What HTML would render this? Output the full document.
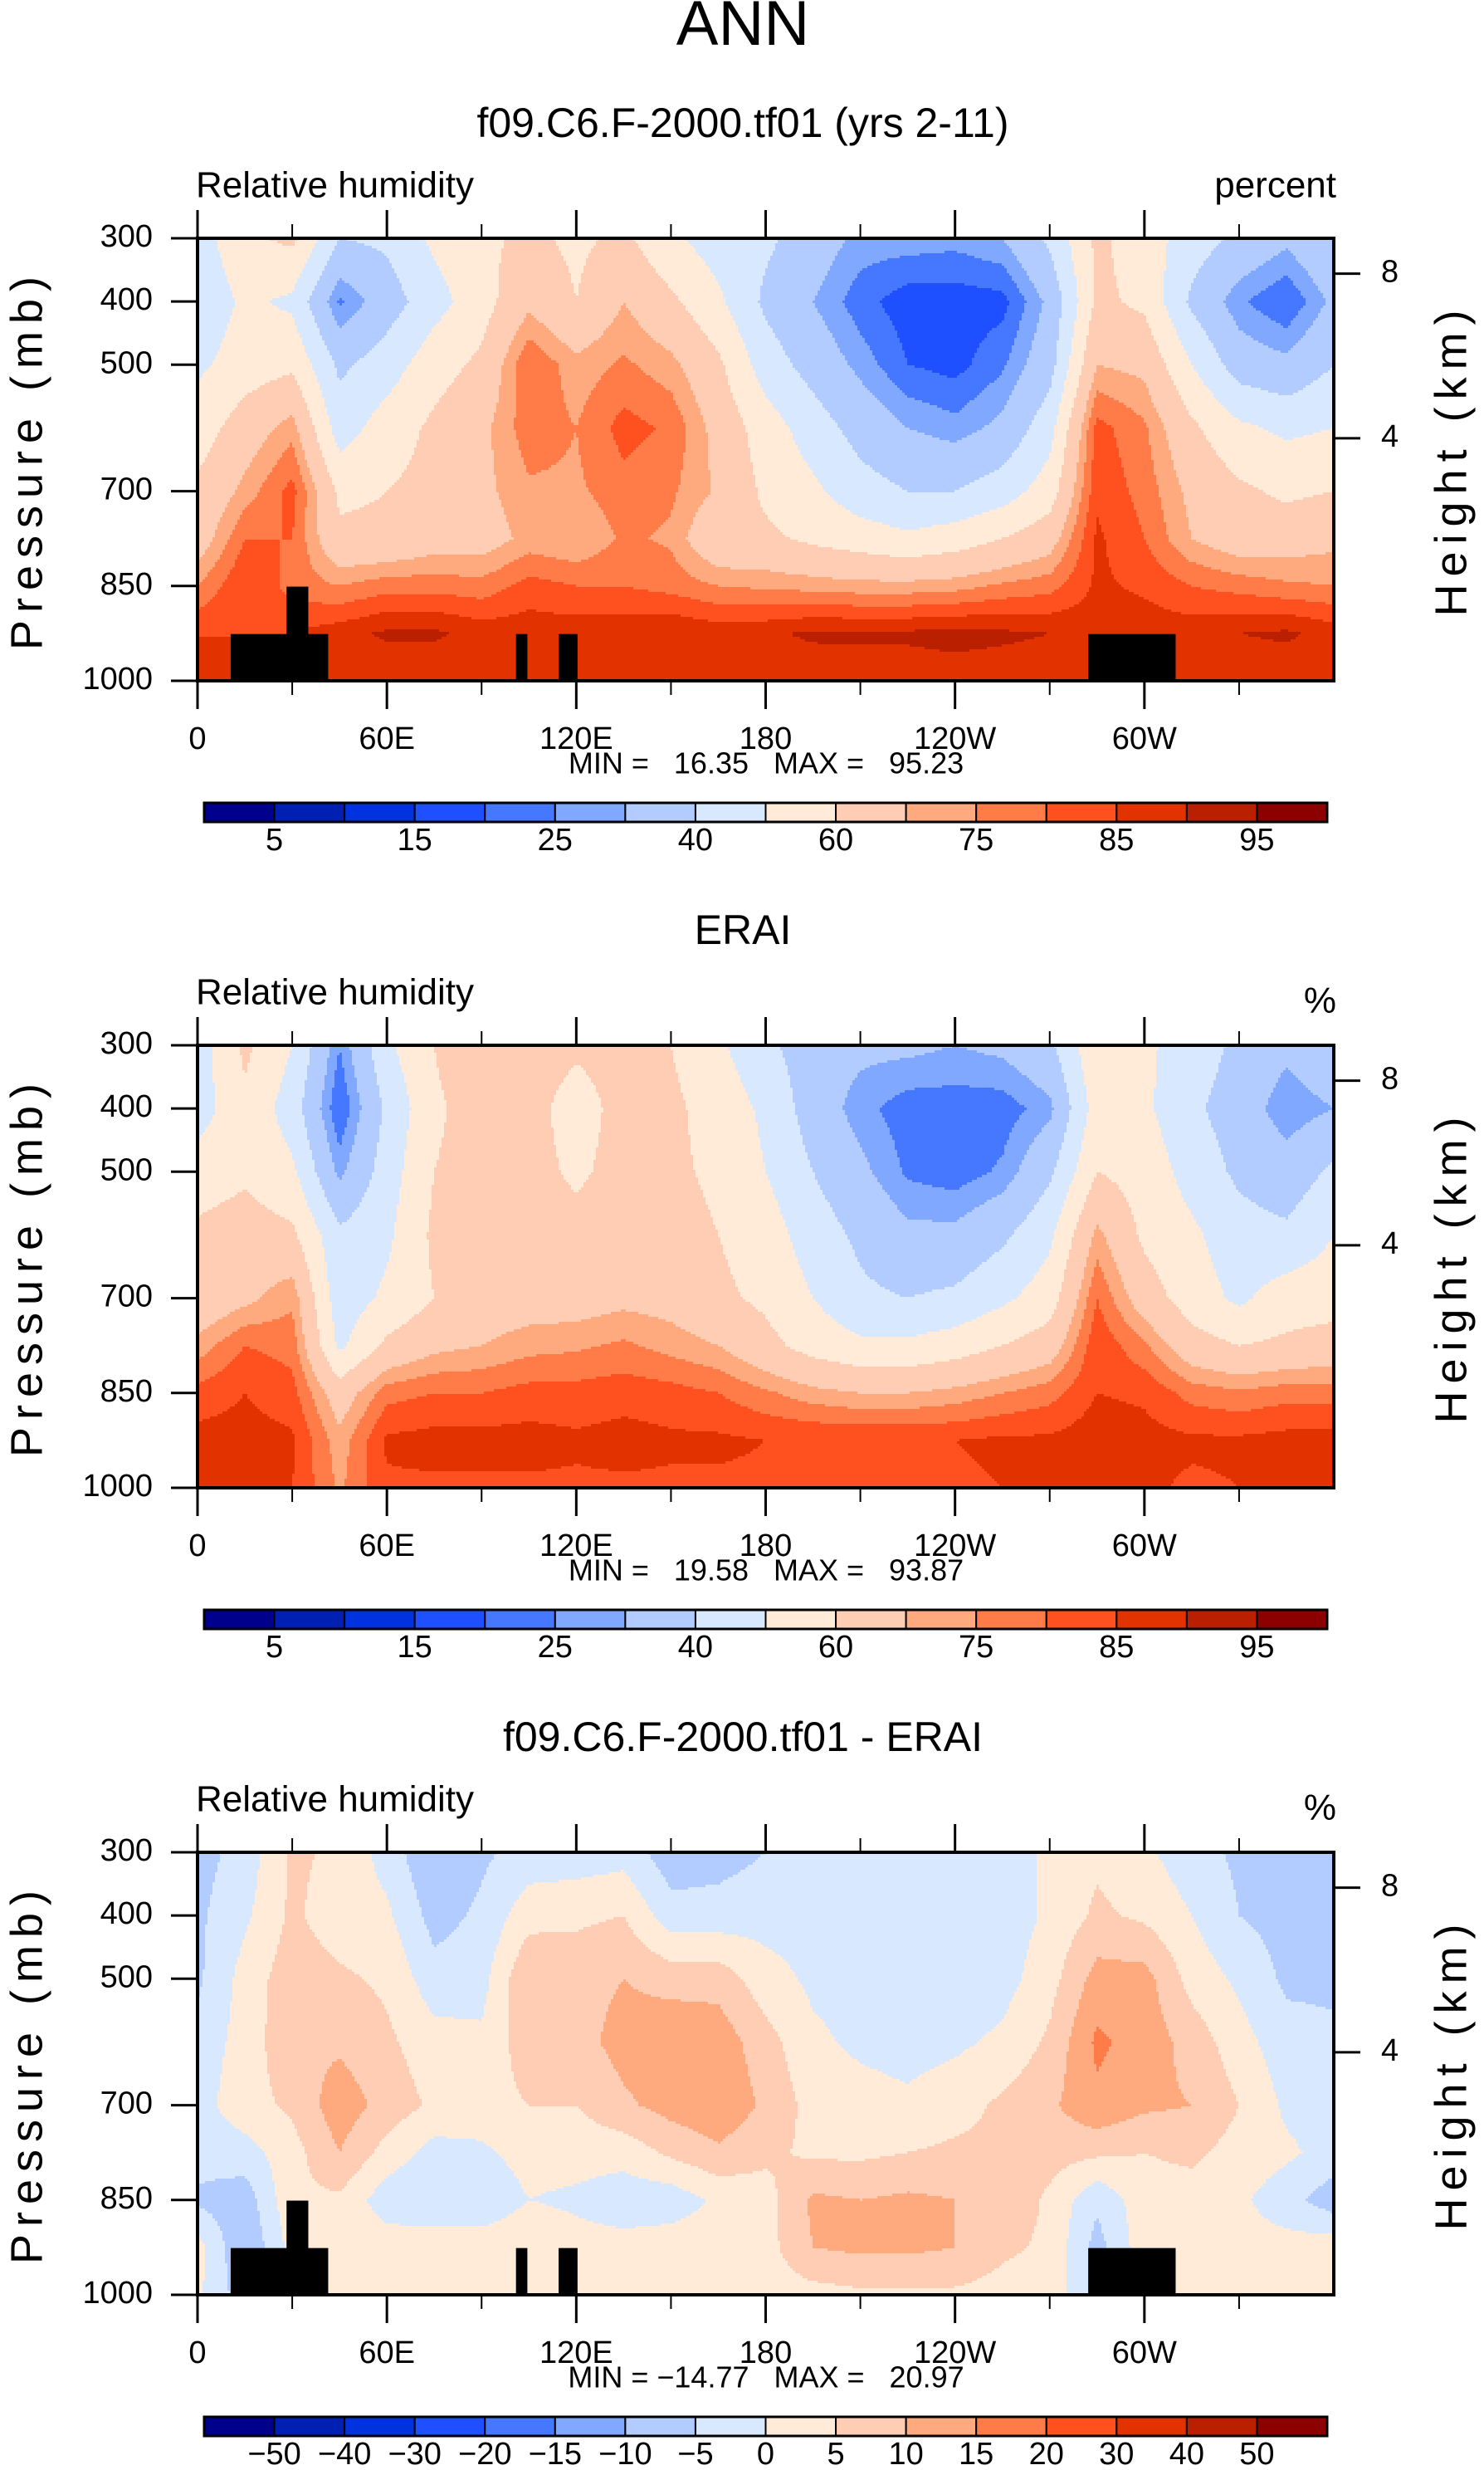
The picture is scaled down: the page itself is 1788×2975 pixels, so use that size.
<!DOCTYPE html>
<html><head><meta charset="utf-8">
<style>
html,body{margin:0;padding:0;background:#fff;}
svg{display:block;}
text{font-family:"Liberation Sans",sans-serif;fill:#000;}
</style></head>
<body>
<svg id="fig" xmlns="http://www.w3.org/2000/svg" width="1788" height="2975" viewBox="0 0 1788 2975">
<rect width="1788" height="2975" fill="#fff"/>
<text x="895" y="34" font-size="76" text-anchor="middle" dominant-baseline="middle" font-weight="300">ANN</text>
</svg>
<script>
// ---- shared axes data ----
const lons = [0,15,30,45,60,75,90,105,120,135,150,165,180,195,210,225,240,255,270,285,300,315,330,345,360];
const pLevels = [300,400,500,600,700,775,850,925,1000];
const pTicks = [300,400,500,700,850,1000];
const lonTicksMajor = [0,60,120,180,240,300];
const lonTickLabels = ["0","60E","120E","180","120W","60W"];
const lonTicksMinor = [30,90,150,210,270,330];
const kmTicks = [8,4];

// field values [lon index][pressure index]
const modelRH = [
[45,42,48,55,62,65,75,85,85],[58,52,55,65,72,80,85,85,85],[62,48,58,73,82,80,78,85,85],
[40,24,38,45,58,62,75,88,85],[42,35,45,55,60,62,78,91,85],[52,46,56,62,63,66,78,91,85],
[58,56,62,68,68,66,77,88,85],[62,68,80,78,74,72,82,88,86],[58,60,72,75,74,70,80,88,86],
[62,70,76,82,78,76,80,88,86],[52,62,72,79,76,74,78,90,86],[45,52,62,67,69,62,75,88,86],
[42,38,45,55,58,62,74,89,86],[35,30,36,45,52,58,73,91,86],[28,22,28,36,44,55,72,91,87],
[28,17,20,30,40,52,72,91,87],[27,17,18,27,40,55,73,92,87],[30,18,24,32,45,60,76,91,87],
[42,32,36,46,55,66,78,90,87],[62,62,70,82,84,86,86,88,86],[55,58,68,76,78,80,84,88,86],
[45,38,50,62,68,70,80,88,86],[38,26,35,52,62,65,78,90,86],[32,20,32,48,58,66,76,91,86],
[40,32,40,50,60,68,75,88,86]];
const eraiRH = [
[45,45,55,62,63,72,82,87,86],[62,58,58,65,68,80,85,87,86],[50,45,52,62,74,78,82,86,85],
[25,20,28,42,44,48,65,72,74],[48,42,45,48,52,62,78,86,84],[60,58,60,62,60,68,80,87,84],
[70,65,65,65,65,70,80,87,84],[66,64,64,65,66,73,82,87,84],[62,55,58,64,66,74,82,86,84],
[64,64,64,65,68,76,83,87,84],[60,62,62,64,67,73,82,86,84],[52,56,58,60,62,70,80,86,84],
[42,48,50,55,58,63,76,85,84],[35,35,40,45,50,56,72,85,84],[32,27,32,38,42,52,70,85,84],
[32,22,24,32,40,52,70,85,84],[30,22,22,32,42,55,72,85,84],[32,22,26,38,48,60,75,86,85],
[38,28,38,48,55,65,78,86,85],[58,55,60,72,80,84,85,88,86],[52,52,56,58,65,76,84,87,86],
[45,42,46,52,55,64,78,86,84],[38,35,38,44,48,60,76,86,85],[32,26,34,42,55,62,78,87,86],
[38,30,42,50,56,64,78,87,86]];
const diffRH = [
[-7,-6,-6,-3,-2,-3,-6,2,1],[-3,-1,2,2,3,-2,-8,-10,-8],[6,6,8,9,6,3,4,2,2],
[4,2,6,9,13,10,4,5,4],[-2,1,4,6,8,3,-3,3,3],[-10,-7,-3,2,4,-2,-5,4,3],
[-6,-4,-2,1,3,-1,-4,3,2],[-3,3,10,8,5,2,0,4,2],[-3,4,8,8,5,2,-1,2,2],
[-2,5,10,12,9,2,-3,2,2],[-8,-3,8,14,12,6,-3,3,2],[-7,-3,8,13,14,9,1,3,2],
[-5,-2,2,7,9,6,3,3,2],[-3,-2,-1,1,3,4,11,10,3],[-3,-3,-2,-1,2,4,10,11,4],
[-3,-3,-2,-2,1,5,11,11,4],[-3,-5,-3,-1,3,6,10,10,4],[-3,-3,-2,1,6,6,9,6,3],
[1,1,3,6,9,7,4,4,3],[4,6,12,16,14,6,-4,-7,-6],[1,4,12,13,11,5,3,3,2],
[-3,0,3,8,10,6,3,2,1],[-6,-5,-1,2,5,3,1,2,1],[-7,-7,-6,-3,-1,1,-3,2,1],
[-8,-7,-6,-4,-3,-2,-8,3,2]];

const rhLevels = [5,10,15,20,25,30,40,50,60,70,75,80,85,90,95];
const rhLabels = ["5","15","25","40","60","75","85","95"];
const diffLevels = [-50,-40,-30,-20,-15,-10,-5,0,5,10,15,20,30,40,50];
const diffLabels = ["\u221250","\u221240","\u221230","\u221220","\u221215","\u221210","\u22125","0","5","10","15","20","30","40","50"];
const colors = ["#00008C","#0020B4","#0032E0","#1E50FF","#4678FF","#80A8FF","#B2CCFF","#D7E8FF","#FFEBD8","#FFCDB3","#FFA97F","#FF7B48","#FF5020","#E23200","#BA2000","#8C0000"];

// topography [lonStart, lonEnd, topPressure]
const topoLon0 = [10.5,28.2,100.9,114.4,282.2];
const topoLon1 = [41.4,35.1,104.5,120.4,309.9];
const topoP = [926,851,926,926,926];

const panels = [
 {title:"f09.C6.F-2000.tf01 (yrs 2-11)", units:"percent", field:modelRH, levels:rhLevels, labels:rhLabels, every:2, mm:"MIN =   16.35   MAX =   95.23", topo:true, name:"model"},
 {title:"ERAI", units:"%", field:eraiRH, levels:rhLevels, labels:rhLabels, every:2, mm:"MIN =   19.58   MAX =   93.87", topo:false, name:"erai"},
 {title:"f09.C6.F-2000.tf01 - ERAI", units:"%", field:diffRH, levels:diffLevels, labels:diffLabels, every:1, mm:"MIN = \u221214.77   MAX =   20.97", topo:true, name:"difference"}
];

const NS="http://www.w3.org/2000/svg";
const svg=document.getElementById('fig');
const X0=238, X1=1607, H=533;
function mk(tag, attrs, parent){const e=document.createElementNS(NS,tag);for(const k in attrs)e.setAttribute(k,attrs[k]);(parent||svg).appendChild(e);return e;}
function xScale(lon){return X0+(lon/360)*(X1-X0);}
function kmToP(z){return 1013.25*Math.pow(1-2.25577e-5*z*1000,5.25588);}

function sample(field, lon, p){
  let i=Math.min(lons.length-2, Math.floor(lon/15));
  const tx=(lon-lons[i])/15;
  let j=0; while(j<pLevels.length-2 && p>pLevels[j+1]) j++;
  const ty=Math.min(1,Math.max(0,(p-pLevels[j])/(pLevels[j+1]-pLevels[j])));
  const a=field[i][j], b=field[i+1][j], c=field[i][j+1], d=field[i+1][j+1];
  return (a*(1-tx)+b*tx)*(1-ty)+(c*(1-tx)+d*tx)*ty;
}
function levelIndex(v, levels){let k=0;while(k<levels.length && v>=levels[k])k++;return k;}

panels.forEach((pn, k)=>{
  const top=287+972*k, bot=top+H;
  const yScale=p=>top+(p-300)/700*H;
  const g=mk('g',{});
  
  
  let t;
  t=mk('text',{x:895,y:152+972*k,'font-size':50,'text-anchor':'middle','dominant-baseline':'middle'},g);
  t.textContent=pn.title;
  
  
  t=mk('text',{x:236,y:226+972*k,'font-size':44,'dominant-baseline':'middle'},g);
  t.textContent="Relative humidity";
  
  
  t=mk('text',{x:1610,y:(pn.units==="%"?236:226)+972*k,'font-size':44,'text-anchor':'end','dominant-baseline':'middle'},g);
  t.textContent=pn.units;
  
  

  // contour fill
  const cg=mk('g',{'shape-rendering':'crispEdges'},g);
  
  
  const step=3;
  for(let y=top;y<bot;y+=step){
    const p=300+((y+step/2-top)/H)*700;
    const hgt=Math.min(step,bot-y)+0.5;
    let runStart=X0, runIdx=-1;
    for(let x=X0;x<X1;x+=step){
      const lon=Math.min((x+step/2-X0)/(X1-X0)*360,359.99);
      const idx=levelIndex(sample(pn.field,lon,p),pn.levels);
      if(idx!==runIdx){
        if(runIdx>=0){mk('rect',{x:runStart,y:y,width:x-runStart,height:hgt,fill:colors[runIdx]},cg);}
        runStart=x;runIdx=idx;
      }
    }
    if(runIdx>=0){mk('rect',{x:runStart,y:y,width:X1-runStart,height:hgt,fill:colors[runIdx]},cg);}
  }
  // topography
  if(pn.topo){
    topoLon0.forEach((l0,m)=>{
      const r=mk('rect',{x:xScale(l0),y:yScale(topoP[m]),width:xScale(topoLon1[m])-xScale(l0),height:bot-yScale(topoP[m]),fill:'#000'},g);
      
      
    });
  }
  // frame
  const fr=mk('rect',{x:X0,y:top,width:X1-X0,height:H,fill:'none',stroke:'#000','stroke-width':4},g);
  
  
  // x ticks
  lonTicksMajor.forEach((l,m)=>{
    const x=xScale(l);
    mk('line',{x1:x,y1:bot,x2:x,y2:bot+34,stroke:'#000','stroke-width':3},g);
    mk('line',{x1:x,y1:top,x2:x,y2:top-34,stroke:'#000','stroke-width':3},g);
    const tl=mk('text',{x:x,y:892+972*k,'font-size':38,'text-anchor':'middle','dominant-baseline':'middle'},g);
    tl.textContent=lonTickLabels[m];
    
    
  });
  lonTicksMinor.forEach(l=>{
    const x=xScale(l);
    mk('line',{x1:x,y1:bot,x2:x,y2:bot+17,stroke:'#000','stroke-width':2},g);
    mk('line',{x1:x,y1:top,x2:x,y2:top-17,stroke:'#000','stroke-width':2},g);
  });
  // y ticks
  pTicks.forEach(p=>{
    const y=yScale(p);
    mk('line',{x1:X0,y1:y,x2:X0-32,y2:y,stroke:'#000','stroke-width':3},g);
    const tl=mk('text',{x:184,y:y,'font-size':38,'text-anchor':'end','dominant-baseline':'middle'},g);
    tl.textContent=p;
    
    
  });
  kmTicks.forEach(z=>{
    const y=yScale(kmToP(z));
    mk('line',{x1:X1,y1:y,x2:X1+32,y2:y,stroke:'#000','stroke-width':3},g);
    const tl=mk('text',{x:1664,y:y,'font-size':38,'dominant-baseline':'middle'},g);
    tl.textContent=z;
    
    
  });
  const cy=top+H/2;
  t=mk('text',{x:0,y:0,'font-size':54,'letter-spacing':9,'text-anchor':'middle','dominant-baseline':'middle',transform:`translate(36,${cy}) rotate(-90)`},g);
  t.textContent="Pressure (mb)";
  
  
  t=mk('text',{x:0,y:0,'font-size':54,'letter-spacing':9,'text-anchor':'middle','dominant-baseline':'middle',transform:`translate(1752,${cy}) rotate(-90)`},g);
  t.textContent="Height (km)";
  
  
  t=mk('text',{x:923,y:922+972*k,'font-size':36,'text-anchor':'middle','dominant-baseline':'middle',style:'white-space:pre'},g);
  t.textContent=pn.mm;
  
  

  // colorbar
  const cb=mk('g',{},g);
  
  
  const cbx0=246, cbx1=1599, cby=967+972*k, cbh=23, bw=(cbx1-cbx0)/colors.length;
  colors.forEach((c,m)=>{
    const r=mk('rect',{x:cbx0+m*bw,y:cby,width:bw,height:cbh,fill:c,stroke:'#000','stroke-width':2},cb);
    
    
  });
  mk('rect',{x:cbx0,y:cby,width:cbx1-cbx0,height:cbh,fill:'none',stroke:'#000','stroke-width':3},cb);
  pn.labels.forEach((lab,m)=>{
    const bi=pn.every===2?(1+2*m):(1+m);
    const tl=mk('text',{x:cbx0+bi*bw,y:1014+972*k,'font-size':38,'text-anchor':'middle','dominant-baseline':'middle'},cb);
    tl.textContent=lab;
    
    
  });
});
</script>
</body></html>
